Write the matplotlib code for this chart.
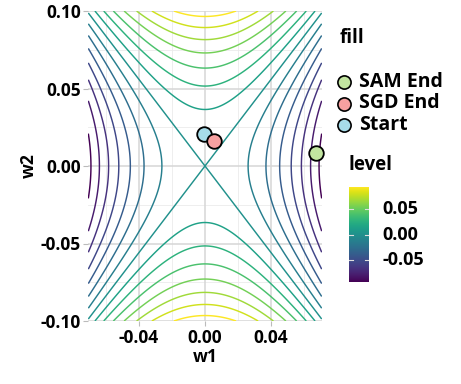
import numpy as np
import matplotlib
matplotlib.use("Agg")
import matplotlib.pyplot as plt
from matplotlib.lines import Line2D

plt.rcParams['font.family'] = ['Open Sans', 'DejaVu Sans']
plt.rcParams['font.weight'] = 'bold'

# ---- data ----
w1_limits = [-0.0707, 0.0707]
w2_limits = [-0.1, 0.1]
coef_w1 = -19.5          # loss surface: coef_w2*w2^2 + coef_w1*w1^2
coef_w2 = 10.0
level_step = 0.0133
level_ids = list(range(-7, 8))

point_names = ["Start", "SGD End", "SAM End"]
point_w1 = [-0.0006, 0.0052, 0.0673]
point_w2 = [0.0206, 0.0163, 0.0082]
point_colors = {"SAM End": "#C2E5A0", "SGD End": "#F7A1A1", "Start": "#A7DCE9"}
legend_order = ["SAM End", "SGD End", "Start"]

x_major = [-0.04, 0.00, 0.04]
x_minor = [-0.06, -0.02, 0.02, 0.06]
y_major = [-0.10, -0.05, 0.00, 0.05, 0.10]
y_minor = [-0.075, -0.025, 0.025, 0.075]
cbar_ticks = [-0.05, 0.00, 0.05]

# ---- figure ----
W, H = 461, 384
fig = plt.figure(figsize=(W / 100, H / 100), dpi=100)
ax = fig.add_axes([88.3 / W, 1 - 321 / H, 233.4 / W, 310 / H])

g1 = np.linspace(w1_limits[0], w1_limits[1], 400)
g2 = np.linspace(w2_limits[0], w2_limits[1], 400)
G1, G2 = np.meshgrid(g1, g2)
Z = coef_w2 * G2 ** 2 + coef_w1 * G1 ** 2
levels = [i * level_step for i in level_ids]
vmin, vmax = min(levels), max(levels)

for x in x_minor:
    ax.axvline(x, color="#EBEBEB", lw=0.6, zorder=0)
for y in y_minor:
    ax.axhline(y, color="#EBEBEB", lw=0.6, zorder=0)
for x in x_major:
    ax.axvline(x, color="#D6D6D6", lw=1.1, zorder=0)
for y in y_major:
    ax.axhline(y, color="#D6D6D6", lw=1.1, zorder=0)

ax.contour(G1, G2, Z, levels=levels, cmap="viridis", vmin=vmin, vmax=vmax,
           linewidths=1.05, zorder=2)

for name, x, y in zip(point_names, point_w1, point_w2):
    ax.plot([x], [y], 'o', ms=10.5, mfc=point_colors[name], mec="black",
            mew=1.3, zorder=5, clip_on=False)

ax.set_xlim(w1_limits)
ax.set_ylim(w2_limits)
ax.set_xticks(x_major)
ax.set_xticklabels([f"{v:.2f}" for v in x_major])
ax.set_yticks(y_major)
ax.set_yticklabels([f"{v:.2f}" for v in y_major])
for s in ax.spines.values():
    s.set_visible(False)
ax.tick_params(axis='both', length=3.5, width=0.8, color="#BBBBBB",
               labelsize=12.5, pad=2)
for lab in ax.get_xticklabels() + ax.get_yticklabels():
    lab.set_fontweight('bold')
    lab.set_color('black')
ax.set_xlabel("w1", fontsize=12.5, fontweight='bold', labelpad=1)
ax.set_ylabel("w2", fontsize=12.5, fontweight='bold', labelpad=2)

# ---- fill legend ----
fig.text(340 / W, 1 - 38 / H, "fill", fontsize=13.5, fontweight='bold',
         va='center', ha='left')
for i, name in enumerate(legend_order):
    yy = 1 - (82 + i * 21.5) / H
    fig.add_artist(Line2D([344 / W], [yy], marker='o', ms=9.5,
                          mfc=point_colors[name], mec='black', mew=1.2,
                          transform=fig.transFigure))
    fig.text(359 / W, yy, name, fontsize=14, fontweight='bold',
             va='center', ha='left')

# ---- level colorbar ----
fig.text(348 / W, 1 - 165 / H, "level", fontsize=13.5, fontweight='bold',
         va='center', ha='left')
cax = fig.add_axes([349 / W, 1 - 282 / H, 20 / W, 95 / H])
grad = np.linspace(vmin, vmax, 256).reshape(-1, 1)
cax.imshow(grad, aspect='auto', cmap='viridis', origin='lower',
           extent=[0, 1, vmin, vmax], vmin=vmin, vmax=vmax)
cax.set_xlim(0, 1)
cax.set_ylim(vmin, vmax)
for t in cbar_ticks:
    cax.plot([0, 0.2], [t, t], color='#DDDDDD', lw=0.8)
    cax.plot([0.8, 1], [t, t], color='#DDDDDD', lw=0.8)
    fig.text(382 / W, cax.transData.transform((0, t))[1] / H,
             f"{t:.2f}", fontsize=13, fontweight='bold', va='center',
             ha='left')
cax.set_xticks([])
cax.set_yticks([])
for s in cax.spines.values():
    s.set_visible(False)

fig.savefig("out.png", dpi=100)
